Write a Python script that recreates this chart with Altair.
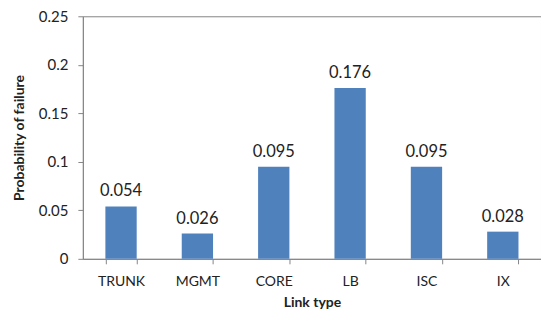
import altair as alt
import pandas as pd

categories = ["TRUNK", "MGMT", "CORE", "LB", "ISC", "IX"]
values = [0.054, 0.026, 0.095, 0.176, 0.095, 0.028]
labels = ["0.054", "0.026", "0.095", "0.176", "0.095", "0.028"]
y_ticks = [0, 0.05, 0.1, 0.15, 0.2, 0.25]

df = pd.DataFrame({"cat": categories, "val": values, "lab": labels})

FONT = "Lato"
GRAY = "#868686"

x = alt.X("cat:N", sort=categories, title="Link type",
          scale=alt.Scale(paddingInner=0.59, paddingOuter=0.295),
          axis=alt.Axis(labelAngle=0, labelFontSize=14, labelColor="#222",
                        labelFont=FONT, labelPadding=11, tickBand="extent",
                        tickSize=5, tickColor=GRAY, domainColor=GRAY,
                        titleFont=FONT, titleFontSize=14, titleFontWeight="bold",
                        titleColor="#222", titlePadding=7))
y = alt.Y("val:Q", title="Probability of failure",
          scale=alt.Scale(domain=[0, 0.25], nice=False),
          axis=alt.Axis(values=y_ticks, grid=False, format="~g", labelFontSize=15,
                        labelColor="#222", labelFont=FONT, labelPadding=10,
                        tickSize=5, tickColor=GRAY, domainColor=GRAY,
                        titleFont=FONT, titleFontSize=14, titleFontWeight="bold",
                        titleColor="#222", titlePadding=12))

bars = alt.Chart(df).mark_bar(color="#4F81BD").encode(x=x, y=y)
text = alt.Chart(df).mark_text(baseline="bottom", dy=-7, fontSize=16.5,
                               font=FONT, color="#222").encode(
    x=alt.X("cat:N", sort=categories), y="val:Q", text="lab:N")

chart = (bars + text).properties(
    width=459, height=243,
    autosize=alt.AutoSizeParams(type="none"),
    padding={"left": 75, "top": 8, "right": 0, "bottom": 56},
).configure_view(stroke=GRAY, strokeWidth=1)

chart.save("out.html", embed_options={"renderer": "svg", "actions": False})
